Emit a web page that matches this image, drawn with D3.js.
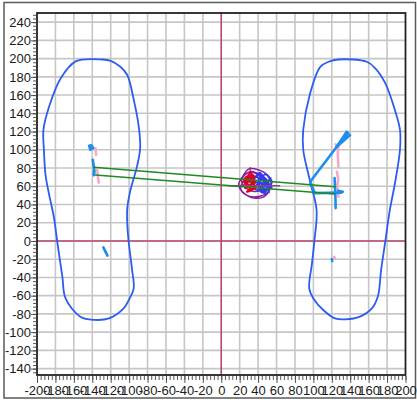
<!DOCTYPE html>
<html><head><meta charset="utf-8">
<script src="https://cdn.jsdelivr.net/npm/d3@7"></script>
<style>
html,body{margin:0;padding:0;background:#fff;}
svg{display:block;}
text{font-family:"Liberation Sans",Arial,Helvetica,sans-serif;}
</style></head>
<body>
<svg id="chart" width="417" height="400"></svg>
<script>
// ---- tick labels ----
const xTickLabels = [-200,-180,-160,-140,-120,-100,-80,-60,-40,-20,0,20,40,60,80,100,120,140,160,180,200];
const yTickLabels = [-140,-120,-100,-80,-60,-40,-20,0,20,40,60,80,100,120,140,160,180,200,220,240];

// ---- foot outlines ----
const leftFoot = [[-158,197],[-129,199],[-120,197.5],[-109.5,191],[-102,182],[-95,155],[-89.5,125],[-88,102],[-91.5,81.5],[-98.5,56],[-102,36],[-102,19],[-100.5,-1],[-97,-30],[-95,-52],[-98.5,-61],[-106,-74],[-122,-85],[-138,-86.5],[-153,-83],[-169,-63],[-172.5,-39],[-178,-1],[-181.5,25],[-190.5,70.5],[-192.5,100],[-193,122],[-187,147],[-174.5,178]];
const rightFoot = [[127,199],[158,196.5],[167,189.5],[178,173],[188.5,143.5],[194,122],[194,100],[188.5,63],[183,34],[178,-1],[173.5,-32],[170,-61],[163.5,-74],[150.5,-83],[134.5,-86],[123.5,-85],[111,-76],[100,-63],[95.5,-52],[98.5,-24.5],[101,-1],[103.5,34],[96.5,65],[89,100],[89,122],[96.5,162],[107.5,191],[116.5,196.5]];

// ---- centre-of-pressure traces (blue) ----
const blueTraces = [
  [[-143.5,104.5],[-141,105],[-139,102],[-142,100],[-143,103]],
  [[-139.5,89],[-138,80],[-138.5,72],[-137.5,76],[-139,85]],
  [[-128,-7],[-125.5,-12],[-123.5,-16]],
  [[125.4,103.4],[136.2,119.8]],
  [[125.4,103.4],[138,118.5]],
  [[125.4,103.4],[139.8,116.2]],
  [[125.4,103.4],[96.5,65],[101.5,52.5],[130.5,53]],
  [[123,69],[123.8,52],[124.2,36]],
  [[127,55],[132,54]],
  [[120,-20],[120.5,-22]]
];
// ---- traces (pink) ----
const pinkTraces = [
  [[-136.5,101.5],[-135.8,94.5]],
  [[-134.7,78],[-133.8,70],[-133,64]],
  [[-126.5,-10],[-124.5,-14]],
  [[124,106],[127,104],[126.5,95],[127.2,81.5]],
  [[125.5,76],[127,68],[126,60],[127.2,48.5]],
  [[122.5,-17.5],[123.5,-19]]
];
// ---- traces (green) ----
const greenTraces = [
  [[-138.4,80.8],[123.6,59.5]],
  [[-136.6,72.4],[123.6,51.5]]
];
// ---- central sway scribbles ----
const swayRed = [[30,64],[34,71],[27,70],[32,57],[37,66],[29,60],[25,67],[33,73],[35,61],[28,54],[35,58],[30,72],[32,69],[27,62],[37,57],[29,71],[34,65],[26,58],[31,74],[36,70],[28,66],[33,55],[30,62]];
const swaySpike = [[31,66],[31.5,81]];
const swayBlue = [[38,70],[46,67],[51,60],[44,53],[40,62],[48,73],[55,64],[46,56],[37,57],[44,68],[52,53],[42,75],[36,66],[49,61],[42,57],[54,69],[45,61],[39,74],[50,66],[47,52],[41,65],[55,58],[44,72]];
const swayPurple = [[23,70],[30,79],[40,78],[50,72],[54,60],[47,49],[36,47],[24,53],[19,62],[27,74],[38,74],[46,64],[41,55],[30,56],[22,66],[31,76],[44,71],[52,56],[42,49],[28,50],[21,58],[26,68]];
const swayLine = [[7,60.5],[64,60.5]];

const svg = d3.select("#chart");
const x = d3.scaleLinear().domain([-200,200]).range([37,405.5]);
const y = d3.scaleLinear().domain([-147,250]).range([375,13]);

// outer border
svg.append("rect").attr("x",4).attr("y",2.5).attr("width",411.5).attr("height",395.5)
  .attr("fill","#fff").attr("stroke","#5a5a5a").attr("stroke-width",1.5);

// grid
const g = svg.append("g");
g.selectAll("line.vx").data(xTickLabels.filter(v=>v>-200&&v<200)).enter().append("line")
  .attr("x1",d=>x(d)).attr("x2",d=>x(d)).attr("y1",y.range()[1]).attr("y2",y.range()[0])
  .attr("stroke","#c6c6c6").attr("stroke-width",1.6);
g.selectAll("line.hy").data(yTickLabels).enter().append("line")
  .attr("y1",d=>y(d)).attr("y2",d=>y(d)).attr("x1",x.range()[0]).attr("x2",x.range()[1])
  .attr("stroke","#c6c6c6").attr("stroke-width",1.6);

// zero lines
svg.append("line").attr("x1",x(0)).attr("x2",x(0)).attr("y1",y.range()[1]).attr("y2",y.range()[0])
  .attr("stroke","#b8466e").attr("stroke-width",1.5);
svg.append("line").attr("y1",y(0)).attr("y2",y(0)).attr("x1",x.range()[0]).attr("x2",x.range()[1])
  .attr("stroke","#b8466e").attr("stroke-width",1.5);

// foot outlines
const closed = d3.line().x(d=>x(d[0])).y(d=>y(d[1])).curve(d3.curveCatmullRomClosed.alpha(0.5));
[leftFoot,rightFoot].forEach(f=>{
  svg.append("path").attr("d",closed(f)).attr("fill","none")
    .attr("stroke","#2c5cf2").attr("stroke-width",1.8);
});

const open = d3.line().x(d=>x(d[0])).y(d=>y(d[1]));
const drawSet = (set,color,w)=>set.forEach(t=>{
  svg.append("path").attr("d",open(t)).attr("fill","none").attr("stroke",color)
    .attr("stroke-width",w).attr("stroke-linecap","round").attr("stroke-linejoin","round");
});
drawSet(pinkTraces,"#f4a9c9",2.6);
drawSet(blueTraces,"#1f8cf0",2.6);

// sway scribbles
const sway = d3.line().x(d=>x(d[0])).y(d=>y(d[1])).curve(d3.curveCatmullRom);
svg.append("path").attr("d",sway(swayPurple)).attr("fill","none").attr("stroke","#8a1f9a").attr("stroke-width",1.5);
svg.append("path").attr("d",sway(swayBlue)).attr("fill","none").attr("stroke","#2a3cf5").attr("stroke-width",1.7);
svg.append("path").attr("d",sway(swayRed)).attr("fill","none").attr("stroke","#e4001c").attr("stroke-width",2.2);
svg.append("path").attr("d",open(swaySpike)).attr("fill","none").attr("stroke","#c0106a").attr("stroke-width",1.2);
svg.append("path").attr("d",open(swayLine)).attr("fill","none").attr("stroke","#a03a8a").attr("stroke-width",1.4);

drawSet(greenTraces,"#1f8a22",1.6);

// frame
svg.append("rect").attr("x",x.range()[0]).attr("y",y.range()[1])
  .attr("width",x.range()[1]-x.range()[0]).attr("height",y.range()[0]-y.range()[1])
  .attr("fill","none").attr("stroke","#222").attr("stroke-width",1.8);

// axes
const xAxisMinor = d3.axisBottom(x).tickValues(d3.range(-200,201,4)).tickSize(4).tickFormat("");
const xAxisMajor = d3.axisBottom(x).tickValues(xTickLabels).tickSize(7).tickPadding(3).tickFormat(d=>d);
const yAxisMinor = d3.axisLeft(y).tickValues(d3.range(-144,249,4)).tickSize(3).tickFormat("");
const yAxisMajor = d3.axisLeft(y).tickValues(yTickLabels).tickSize(5).tickPadding(0).tickFormat(d=>d);

[xAxisMinor,xAxisMajor].forEach(a=>{
  const ga = svg.append("g").attr("transform",`translate(0,${y.range()[0]+1})`).call(a);
  ga.select(".domain").remove();
  ga.selectAll("line").attr("stroke","#444").attr("stroke-width",0.9);
  ga.selectAll("text").attr("font-size",13).attr("fill","#1a1a1a").attr("font-family","Liberation Sans, Arial, sans-serif");
});
[yAxisMinor,yAxisMajor].forEach(a=>{
  const ga = svg.append("g").attr("transform",`translate(${x.range()[0]-1},0)`).call(a);
  ga.select(".domain").remove();
  ga.selectAll("line").attr("stroke","#444").attr("stroke-width",0.9);
  ga.selectAll("text").attr("font-size",13).attr("fill","#1a1a1a").attr("font-family","Liberation Sans, Arial, sans-serif");
});
</script>
</body></html>
